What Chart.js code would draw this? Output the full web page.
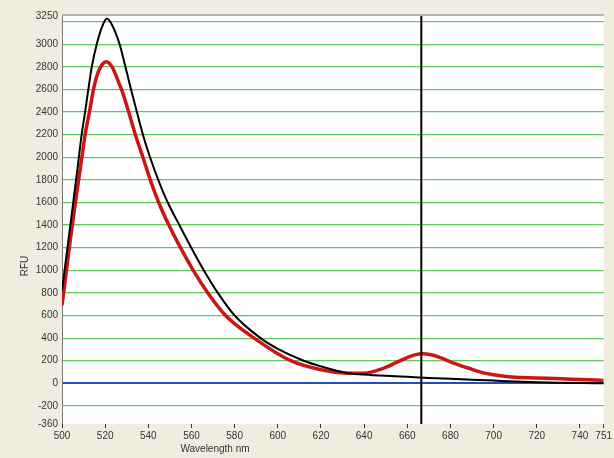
<!DOCTYPE html>
<html>
<head>
<meta charset="utf-8">
<script src="https://cdn.jsdelivr.net/npm/chart.js@4.4.1/dist/chart.umd.min.js"></script>
<style>
  html, body { margin: 0; padding: 0; background: #f0ede0; }
  #wrap { width: 614px; height: 458px; }
</style>
</head>
<body>
<div id="wrap"><canvas id="spectrum" width="614" height="458"></canvas></div>
<script>
// wavelength (nm) and RFU
const blackNm = [500, 502, 504, 506, 508, 509.1, 510.7, 512.2, 513.8, 516.1, 518.3, 520.8, 523.2, 526.7, 529.4, 532, 534.7,
    537.5, 540.8, 544.6, 549, 554.4, 559.9, 565.7, 572.2, 580, 592, 600, 612, 620, 632, 640, 650, 660, 670, 680, 690,
    700, 710, 720, 730, 740, 751];
const blackRfu = [820, 1120, 1420, 1720, 2030, 2200, 2400, 2600, 2800, 3000, 3140, 3227, 3170, 3000, 2800, 2600, 2400,
    2200, 2000, 1800, 1600, 1400, 1200, 1000, 800, 600, 400, 305, 200, 150, 92, 78, 66, 57, 48, 40, 32,
    24, 16, 10, 6, 3, 0];

const redNm = [500, 502, 504, 506, 508, 509.6, 510.7, 512.7, 514.6, 516, 517.5, 519, 520.5, 522, 523.5, 525, 526.5,
    527.8, 530.9, 534, 537.5, 540.9, 544.8, 549.5, 554.9, 560.8, 567.6, 575.8, 589, 606, 620, 632, 640, 645, 650, 655,
    660, 664, 667.3, 671, 675, 680.5, 685, 690, 694.4, 700, 705, 708.4, 720, 731.6, 740, 751];
const redRfu = [690, 990, 1290, 1570, 1840, 2050, 2200, 2400, 2600, 2710, 2785, 2830, 2846, 2830, 2790, 2725, 2650,
    2590, 2400, 2200, 2000, 1800, 1600, 1400, 1200, 1000, 800, 600, 400, 200, 120, 90, 88, 108, 140, 185,
    228, 254, 261, 252, 230, 186, 155, 124, 97, 76, 62, 55, 47, 40, 33, 26];

const markerNm = 666.5;
const xTicks = [500, 520, 540, 560, 580, 600, 620, 640, 660, 680, 700, 720, 740, 751];
const yTicks = [-360, -200, 0, 200, 400, 600, 800, 1000, 1200, 1400, 1600, 1800, 2000, 2200, 2400, 2600, 2800, 3000, 3200, 3250];
const yMin = -360, yMax = 3250;

const toPoints = (xs, ys) => xs.map((x, i) => ({ x: x, y: ys[i] }));

const frame = {
    id: 'frame',
    beforeDraw(chart) {
        const { ctx, chartArea: a } = chart;
        ctx.save();
        ctx.fillStyle = '#f0ede0';
        ctx.fillRect(0, 0, chart.width, chart.height);
        ctx.fillStyle = '#ffffff';
        ctx.fillRect(a.left, a.top, a.right - a.left, a.bottom - a.top);
        ctx.strokeStyle = '#b4b4b0';
        ctx.lineWidth = 2;
        ctx.beginPath();
        ctx.moveTo(a.left, a.top - 1);
        ctx.lineTo(a.right, a.top - 1);
        ctx.stroke();
        ctx.restore();
    },
    afterDraw(chart) {
        const ctx = chart.ctx;
        ctx.save();
        ctx.fillStyle = '#333';
        ctx.font = '10px "Liberation Sans", Arial, sans-serif';
        ctx.textAlign = 'center';
        ctx.textBaseline = 'middle';
        ctx.fillText('Wavelength nm', 215, 449);
        ctx.translate(25, 266);
        ctx.rotate(-Math.PI / 2);
        ctx.fillText('RFU', 0, 0);
        ctx.restore();
    }
};

new Chart(document.getElementById('spectrum'), {
    type: 'line',
    data: {
        datasets: [{
            label: 'Marker',
            data: [{ x: markerNm, y: yMin }, { x: markerNm, y: yMax }],
            borderColor: '#000000',
            borderWidth: 2,
            pointRadius: 0
        }, {
            label: 'Sample',
            data: toPoints(blackNm, blackRfu),
            borderColor: '#000000',
            borderWidth: 2,
            pointRadius: 0,
            cubicInterpolationMode: 'monotone'
        }, {
            label: 'Reference',
            data: toPoints(redNm, redRfu),
            borderColor: '#cc1616',
            borderWidth: 3.5,
            pointRadius: 0,
            cubicInterpolationMode: 'monotone'
        }]
    },
    options: {
        responsive: false,
        animation: false,
        layout: { padding: { top: 16, right: 10, left: 0, bottom: 0 } },
        plugins: { legend: { display: false }, tooltip: { enabled: false } },
        scales: {
            x: {
                type: 'linear',
                min: 500,
                max: 751,
                afterBuildTicks: s => { s.ticks = xTicks.map(v => ({ value: v })); },
                afterFit: s => { s.height = 34; },
                border: { display: false },
                grid: { drawOnChartArea: false, drawTicks: true, tickLength: 4, color: '#333' },
                ticks: {
                    autoSkip: false,
                    maxRotation: 0,
                    padding: 2,
                    color: '#333',
                    font: { family: '"Liberation Sans", Arial, sans-serif', size: 10 }
                }
            },
            y: {
                min: yMin,
                max: yMax,
                afterBuildTicks: s => { s.ticks = yTicks.map(v => ({ value: v })); },
                afterFit: s => { s.width = 62; },
                border: { display: true, color: '#7a7a7a', width: 1 },
                grid: {
                    drawTicks: false,
                    color: c => {
                        const v = c.tick.value;
                        if (v === 0) return '#1f4fbf';
                        if (v === yMin || v === yMax) return 'rgba(0,0,0,0)';
                        return '#5cc85c';
                    },
                    lineWidth: c => (c.tick.value === 0 ? 2 : 1.2)
                },
                ticks: {
                    autoSkip: false,
                    padding: 4,
                    color: '#333',
                    font: { family: '"Liberation Sans", Arial, sans-serif', size: 10 },
                    callback: v => (v === 3200 ? '' : v)
                }
            }
        }
    },
    plugins: [frame]
});
</script>
</body>
</html>
